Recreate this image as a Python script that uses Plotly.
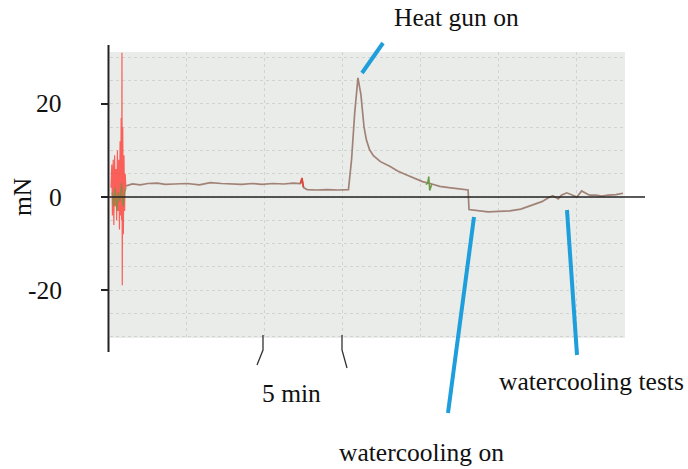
import plotly.graph_objects as go

# ---------------- data (time in minutes, force in mN) ----------------
main_t = [1.10, 1.5, 2.0, 2.5, 3.1, 3.6, 4.2, 5.0, 5.8, 6.5, 7.2, 7.8, 8.5, 9.2,
          9.8, 10.5, 11.2, 11.8, 12.25, 12.37, 12.48, 12.7, 13.3, 14.0, 14.7,
          15.35, 15.55, 15.75, 15.96, 16.15, 16.35, 16.5, 16.7, 16.95, 17.4,
          18.0, 18.5, 19.05, 19.6, 20.1, 20.7, 21.2, 21.8, 22.4, 22.85, 23.02,
          23.08, 23.5, 24.3, 25.0, 25.7, 26.4, 26.75, 27.2, 27.75, 28.2, 28.45,
          28.8, 29.0, 29.35, 29.7, 30.0, 30.3, 30.55, 30.8, 31.2, 31.6, 32.0,
          32.5, 32.95]
main_v = [2.4, 2.8, 2.6, 2.9, 3.0, 2.7, 2.8, 2.9, 2.6, 3.1, 2.9, 2.8, 2.7, 2.9,
          2.7, 2.9, 2.8, 3.0, 2.9, 3.8, 2.0, 1.6, 1.5, 1.6, 1.5,
          1.6, 8.0, 18.0, 25.6, 22.0, 15.0, 12.3, 10.2, 8.9, 7.6,
          6.6, 5.6, 4.8, 4.0, 3.3, 2.8, 2.3, 2.0, 1.8, 1.5, 1.5,
          -2.7, -2.9, -3.2, -3.1, -3.0, -2.6, -2.2, -1.7, -1.0, -0.1, 0.3,
          -0.4, 0.4, 0.9, 0.5, 0.0, 1.3, 0.8, 0.4, 0.4, 0.2, 0.4,
          0.5, 0.8]

red_t = [0.13, 0.18, 0.22, 0.27, 0.31, 0.36, 0.40, 0.45, 0.49, 0.54, 0.58, 0.63,
         0.67, 0.71, 0.74, 0.78, 0.81, 0.83, 0.85, 0.88, 0.92, 0.96, 1.00, 1.04, 1.08]
red_v = [2, 7, -4, 8, -6, 9, -2, 6, -5, 10, -3, 8, -7, 12, -4, 17, -5, 31, -19, 15,
         -8, 9, -3, 5, 2]

green_t = [0.20, 0.30, 0.40, 0.50, 0.60, 0.70, 0.80, 0.90, 1.00, 1.10]
green_v = [1, -2, 2, -3, 1, -1, 3, -2, 1, 2]

green2_t = [20.3, 20.42, 20.5, 20.56, 20.7]
green2_v = [2.7, 2.9, 4.4, 1.4, 2.8]

red2_t = [12.28, 12.37, 12.46]
red2_v = [2.9, 4.1, 2.1]

y_tick_vals = [-20, 0, 20]
y_tick_text = ["-20", "0", "20"]

# ---------------- figure ----------------
SERIF = "Liberation Serif, Times New Roman, serif"
FS = 25.5
BLUE = "#1e9fdc"
GRID = "#d0d3d0"

fig = go.Figure()
fig.add_trace(go.Scatter(x=red_t, y=red_v, mode="lines",
                         line=dict(color="rgba(255,50,40,0.75)", width=1.2),
                         hoverinfo="skip"))
fig.add_trace(go.Scatter(x=green_t, y=green_v, mode="lines",
                         line=dict(color="rgba(110,150,60,0.8)", width=1.2),
                         hoverinfo="skip"))
fig.add_trace(go.Scatter(x=main_t, y=main_v, mode="lines",
                         line=dict(color="#a28276", width=1.7)))
fig.add_trace(go.Scatter(x=red2_t, y=red2_v, mode="lines",
                         line=dict(color="#e0453a", width=1.7)))
fig.add_trace(go.Scatter(x=green2_t, y=green2_v, mode="lines",
                         line=dict(color="#6e9a48", width=1.5)))


def px(xpix):
    return (xpix - 110) / 515.0


def py(ypix):
    return (338 - ypix) / 286.0


shapes = []
# zero line extending beyond the plot
shapes.append(dict(type="line", xref="paper", yref="y", x0=px(103), x1=px(645),
                   y0=0, y1=0, line=dict(color="#222", width=1.6), layer="above"))
# left axis line
shapes.append(dict(type="line", xref="paper", yref="paper", x0=px(108.5), x1=px(108.5),
                   y0=py(352), y1=py(45), line=dict(color="#222", width=2)))
# 5 min markers
shapes.append(dict(type="path", xref="paper", yref="paper",
                   path=f"M {px(263)} {py(335)} L {px(263)} {py(350)} L {px(257)} {py(365)}",
                   line=dict(color="#333", width=1.3)))
shapes.append(dict(type="path", xref="paper", yref="paper",
                   path=f"M {px(342)} {py(335)} L {px(342)} {py(350)} L {px(347)} {py(368)}",
                   line=dict(color="#333", width=1.3)))
# blue pointer lines
for (a, b, c, d) in [(362, 73, 383, 43), (474, 217, 448, 413), (567, 210, 577, 355)]:
    shapes.append(dict(type="line", xref="paper", yref="paper",
                       x0=px(a), y0=py(b), x1=px(c), y1=py(d),
                       line=dict(color=BLUE, width=4)))

annotations = []
for text, xc, yc in [("Heat gun on", 456, 18), ("5 min", 291, 393),
                     ("watercooling tests", 591, 382), ("watercooling on", 421, 452)]:
    annotations.append(dict(text=text, xref="paper", yref="paper", x=px(xc), y=py(yc),
                            xanchor="center", yanchor="middle", showarrow=False,
                            font=dict(family=SERIF, size=FS, color="#111")))
annotations.append(dict(text="mN", xref="paper", yref="paper", x=px(22), y=py(197),
                        xanchor="center", yanchor="middle", showarrow=False, textangle=-90,
                        font=dict(family=SERIF, size=FS, color="#111")))
# y tick labels
for v, t in zip(y_tick_vals, y_tick_text):
    annotations.append(dict(text=t, xref="paper", yref="y", x=px(64), y=v,
                            xanchor="right", yanchor="middle", showarrow=False,
                            font=dict(family=SERIF, size=FS, color="#111")))

fig.update_layout(
    width=688, height=469,
    margin=dict(l=110, r=63, t=52, b=131),
    paper_bgcolor="white", plot_bgcolor="#e9ece9",
    showlegend=False,
    shapes=shapes, annotations=annotations,
    xaxis=dict(range=[0.064, 33.08], showticklabels=False, ticks="", showline=False,
               zeroline=False, showgrid=True, tick0=0, dtick=5, automargin=False,
               gridcolor=GRID, griddash="dot", gridwidth=1),
    yaxis=dict(range=[-30.32, 31.18], tickmode="array", tickvals=y_tick_vals,
               showticklabels=False, ticks="outside", ticklen=8, tickwidth=2,
               tickcolor="#222", showline=False, zeroline=False, automargin=False,
               showgrid=True, gridcolor=GRID, griddash="dot", gridwidth=1,
               minor=dict(tickmode="linear", tick0=0, dtick=5, showgrid=True,
                          gridcolor=GRID, griddash="dot", gridwidth=1, ticks="")),
)

fig.write_html("out.html")
